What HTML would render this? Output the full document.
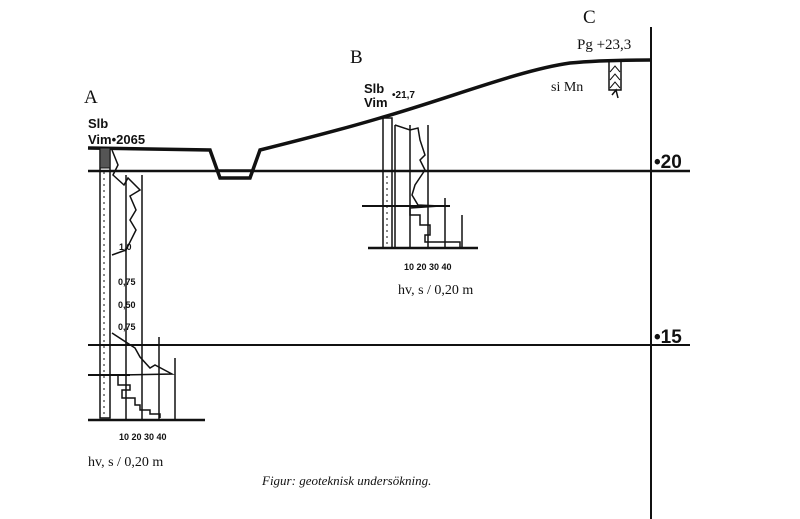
<!DOCTYPE html>
<html><head><meta charset="utf-8"><style>
html,body{margin:0;padding:0;background:#fff}
svg{display:block}
text{font-family:"Liberation Serif",serif;fill:#111}
text.s,.s text{font-family:"Liberation Sans",sans-serif;font-weight:bold}
</style></head><body>
<svg width="800" height="519" viewBox="0 0 800 519" xmlns="http://www.w3.org/2000/svg">
<g stroke="#111" fill="none" stroke-width="2">
<line x1="651" y1="27" x2="651" y2="519"/>
<line x1="88" y1="171" x2="690" y2="171" stroke-width="2.5"/>
<line x1="88" y1="345" x2="690" y2="345" stroke-width="2"/>
<path d="M88 148 L210 150 L220 178 L250 178 L260 150 C300 140 340 130 380 118 C450 98 520 70 570 63 C600 60 630 60 651 60" stroke-width="3.5"/>
<path d="M218 170 L252 170" stroke-width="1.5"/>
<rect x="100" y="148" width="10" height="270" stroke-width="1.5"/>
<line x1="104" y1="160" x2="104" y2="418" stroke-width="1" stroke-dasharray="2 4"/>
<rect x="100" y="148" width="10" height="20" fill="#555" stroke-width="1"/>
<line x1="88" y1="375" x2="130" y2="375"/>
<line x1="88" y1="420" x2="205" y2="420" stroke-width="2.5"/>
<line x1="126" y1="175" x2="126" y2="420" stroke-width="1.5"/>
<line x1="142" y1="175" x2="142" y2="420" stroke-width="1.5"/>
<line x1="159" y1="337" x2="159" y2="420" stroke-width="1.5"/>
<line x1="175" y1="358" x2="175" y2="420" stroke-width="1.5"/>
<path d="M112 150 L118 165 L113 175 L124 185 L128 178 L140 190 L130 196 L136 210 L130 220 L136 230 L126 250 L112 255" stroke-width="1.5"/>
<path d="M112 333 L135 348 L140 357 L150 368 L155 365 L172 374 L118 375 L118 385 L130 385 L130 390 L122 390 L122 398 L135 398 L135 405 L140 405 L140 410 L150 410 L150 414 L160 414 L160 418" stroke-width="1.5"/>
<rect x="383" y="118" width="9" height="130" stroke-width="1.5"/>
<line x1="387" y1="170" x2="387" y2="248" stroke-width="1" stroke-dasharray="2 4"/>
<line x1="395" y1="125" x2="395" y2="248" stroke-width="1.5"/>
<line x1="410" y1="125" x2="410" y2="248" stroke-width="1.5"/>
<line x1="428" y1="125" x2="428" y2="248" stroke-width="1.5"/>
<line x1="445" y1="198" x2="445" y2="248" stroke-width="1.5"/>
<line x1="462" y1="215" x2="462" y2="248" stroke-width="1.5"/>
<line x1="362" y1="206" x2="450" y2="206"/>
<line x1="368" y1="248" x2="478" y2="248" stroke-width="2.5"/>
<path d="M395 125 L410 130 L418 128 L420 140 L425 155 L420 160 L425 170 L415 185 L412 195 L418 205 L440 206 L410 208 L410 215 L420 215 L420 225 L430 225 L430 235 L425 235 L425 242 L460 242 L460 248" stroke-width="1.5"/>
<rect x="609" y="60" width="12" height="30" stroke-width="1.5"/>
<path d="M610 72 L615 66 L620 72 M610 80 L615 74 L620 80 M610 88 L615 82 L620 88" stroke-width="1"/>
<path d="M612 95 L616 90 L618 98" stroke-width="1.5"/>
</g>
<text x="84" y="103" font-size="19">A</text>
<text x="350" y="63" font-size="19">B</text>
<text x="583" y="23" font-size="19">C</text>
<text x="88" y="128" font-size="13" class="s">Slb</text>
<text x="88" y="144" font-size="13" class="s">Vim•2065</text>
<text x="364" y="93" font-size="13" class="s">Slb</text>
<text x="364" y="107" font-size="13" class="s">Vim</text>
<text x="392" y="98" font-size="10" class="s">•21,7</text>
<text x="577" y="49" font-size="15">Pg +23,3</text>
<text x="551" y="91" font-size="14">si Mn</text>
<text x="654" y="168" font-size="19" class="s">•20</text>
<text x="654" y="343" font-size="19" class="s">•15</text>
<g class="s" font-size="9">
<text x="119" y="250">1,0</text><text x="118" y="285">0,75</text><text x="118" y="308">0,50</text><text x="118" y="330">0,75</text>
<text x="119" y="440">10 20 30 40</text>
<text x="404" y="270">10 20 30 40</text>
</g>
<text x="398" y="294" font-size="14">hv, s / 0,20 m</text>
<text x="88" y="466" font-size="14">hv, s / 0,20 m</text>
<text x="262" y="485" font-size="13" font-style="italic">Figur: geoteknisk undersökning.</text>
</svg>
</body></html>
